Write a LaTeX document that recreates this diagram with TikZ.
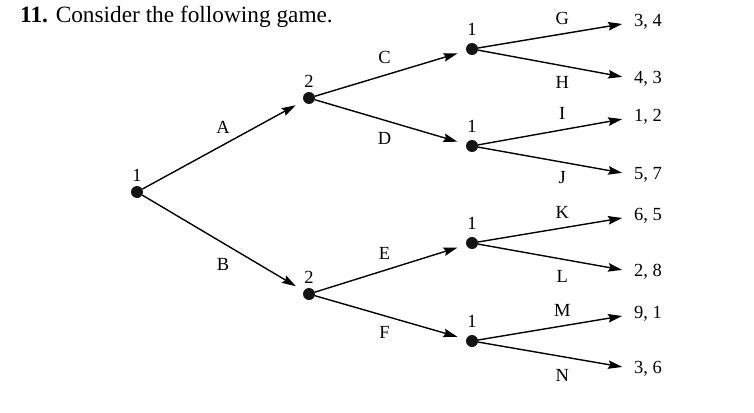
\documentclass[tikz,border=0pt]{standalone}
\usepackage{fontspec}
\setmainfont{Liberation Serif}
\usetikzlibrary{arrows.meta}
\begin{document}
\begin{tikzpicture}[x=1pt,y=-1pt,
  dot/.style={circle,fill=black!92,inner sep=0pt,minimum size=12pt},
  lab/.style={inner sep=0pt,font=\fontsize{18.5}{18.5}\selectfont},
  pay/.style={anchor=west,inner sep=0pt,font=\fontsize{18.5}{18.5}\selectfont},
  mv/.style={line width=1.4pt,-{Stealth[length=14pt,width=8.5pt,inset=2pt]}},
  inner/.style={mv,shorten >=9pt},
  term/.style={mv,shorten >=12pt},
  plab/.style={label={[lab,label distance=4pt]above:#1}},
  plabb/.style={label={[lab,label distance=7pt]above:#1}}
]
\useasboundingbox (0,0) rectangle (754,412);
\node[anchor=west,inner sep=0pt,font=\fontsize{23.3}{23.3}\selectfont] (title) at (20,17) {\textbf{11.} Consider the following game.};

\node[dot,plab=1] (r) at (137,192) {};
\node[dot,plab=2] (a) at (309,98) {};
\node[dot,plab=2] (b) at (309,294) {};
\node[dot,plabb=1] (c1) at (472,49) {};
\node[dot,plabb=1] (c2) at (472,146) {};
\node[dot,plabb=1] (c3) at (472,243) {};
\node[dot,plabb=1] (c4) at (472,341) {};

\node[pay] (p1) at (634,22) {3, 4};
\node[pay] (p2) at (634,79) {4, 3};
\node[pay] (p3) at (634,117) {1, 2};
\node[pay] (p4) at (634,175) {5, 7};
\node[pay] (p5) at (634,216) {6, 5};
\node[pay] (p6) at (634,272) {2, 8};
\node[pay] (p7) at (634,314) {9, 1};
\node[pay] (p8) at (634,369) {3, 6};

\draw[inner] (r) -- (a) node[lab,midway,above=11pt] {A};
\draw[inner] (r) -- (b) node[lab,midway,below=15pt] {B};
\draw[inner] (a) -- (c1) node[lab,pos=0.46,above=11pt] {C};
\draw[inner] (a) -- (c2) node[lab,pos=0.46,below=11pt] {D};
\draw[inner] (b) -- (c3) node[lab,pos=0.46,above=10pt] {E};
\draw[inner] (b) -- (c4) node[lab,pos=0.46,below=10pt] {F};

\draw[term] (c1) -- (p1.west) node[lab,pos=0.54,above=9pt] {G};
\draw[term] (c1) -- (p2.west) node[lab,pos=0.54,below=10pt] {H};
\draw[term] (c2) -- (p3.west) node[lab,pos=0.54,above=10pt] {I};
\draw[term] (c2) -- (p4.west) node[lab,pos=0.54,below=9pt] {J};
\draw[term] (c3) -- (p5.west) node[lab,pos=0.54,above=9pt] {K};
\draw[term] (c3) -- (p6.west) node[lab,pos=0.54,below=11pt] {L};
\draw[term] (c4) -- (p7.west) node[lab,pos=0.54,above=9pt] {M};
\draw[term] (c4) -- (p8.west) node[lab,pos=0.54,below=12pt] {N};
\end{tikzpicture}
\end{document}
